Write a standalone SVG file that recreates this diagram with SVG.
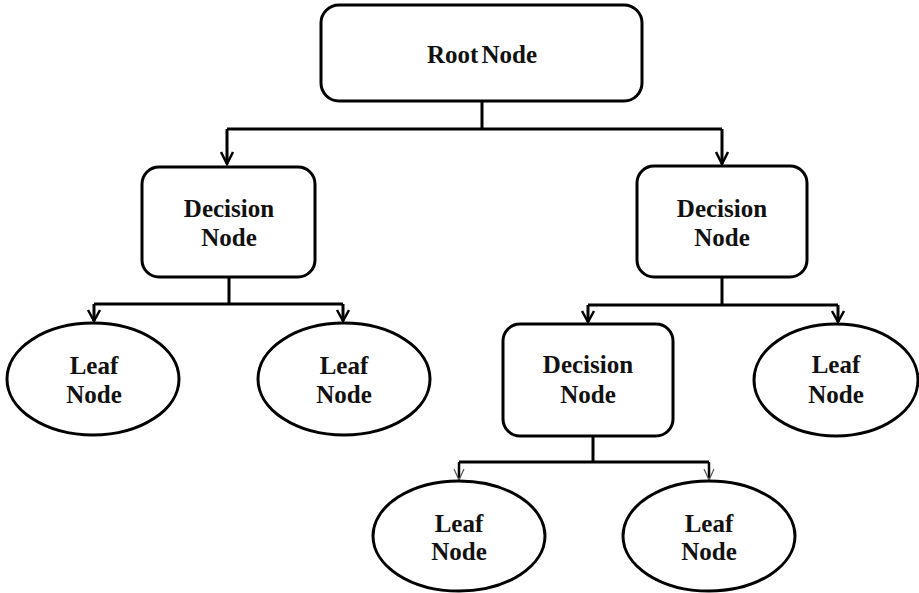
<svg xmlns="http://www.w3.org/2000/svg" width="919" height="593" viewBox="0 0 919 593">
<style>
.box{fill:#fff;stroke:#000;stroke-width:3}
.leaf{fill:#fff;stroke:#000;stroke-width:3}
.t{font-weight:bold;font-size:25px;fill:#111;text-anchor:middle}
.ln{fill:none;stroke:#000;stroke-width:3}
.ah{fill:none;stroke:#000;stroke-width:2.5}
.ln2{fill:none;stroke:#000;stroke-width:2.5}
.ah2{fill:none;stroke:#555;stroke-width:1.2}
</style>
<rect width="919" height="593" fill="#fff"/>
<g id="connectors">
<path class="ln" d="M482 101V129M227 129H722M227 129V164M722 129V164"/>
<path class="ah" d="M221 152L227 164L233 152M716 152L722 164L728 152"/>
<path class="ln" d="M229 277V304M94 304H343M94 304V321M343 304V321"/>
<path class="ah" d="M88 310L94 321L100 310M337 310L343 321L349 310"/>
<path class="ln" d="M722 277V305M588 305H838M588 305V322M838 305V322"/>
<path class="ah" d="M582 311L588 322L594 311M832 311L838 322L844 311"/>
<path class="ln" d="M593 436V462M459 462H709"/>
<path class="ln2" d="M459 462V478M709 462V478"/>
<path class="ah2" d="M454 469L459 480L464 469M704 469L709 480L714 469"/>
</g>
<g font-family="'Liberation Serif', 'DejaVu Serif', serif">
<g id="root"><rect class="box" x="321" y="5" width="321" height="96" rx="18"/><text class="t" x="482" y="63" word-spacing="-3">Root Node</text></g>
<g id="decision-left"><rect class="box" x="142" y="167" width="173" height="110" rx="17"/><text class="t" x="229" y="217">Decision</text><text class="t" x="229" y="246">Node</text></g>
<g id="decision-right"><rect class="box" x="637" y="166" width="170" height="111" rx="17"/><text class="t" x="722" y="217">Decision</text><text class="t" x="722" y="246">Node</text></g>
<g id="decision-mid"><rect class="box" x="503" y="324" width="170" height="112" rx="17"/><text class="t" x="588" y="373">Decision</text><text class="t" x="588" y="403">Node</text></g>
<g id="leaf-1"><ellipse class="leaf" cx="93" cy="379" rx="86" ry="56"/><text class="t" x="94" y="374">Leaf</text><text class="t" x="94" y="403">Node</text></g>
<g id="leaf-2"><ellipse class="leaf" cx="344" cy="379" rx="86" ry="56"/><text class="t" x="344" y="374">Leaf</text><text class="t" x="344" y="403">Node</text></g>
<g id="leaf-3"><ellipse class="leaf" cx="836" cy="380" rx="82" ry="56"/><text class="t" x="836" y="373">Leaf</text><text class="t" x="836" y="403">Node</text></g>
<g id="leaf-4"><ellipse class="leaf" cx="459" cy="536" rx="86" ry="55"/><text class="t" x="459" y="532">Leaf</text><text class="t" x="459" y="560">Node</text></g>
<g id="leaf-5"><ellipse class="leaf" cx="709" cy="536" rx="86" ry="55"/><text class="t" x="709" y="532">Leaf</text><text class="t" x="709" y="560">Node</text></g>
</g>
</svg>
